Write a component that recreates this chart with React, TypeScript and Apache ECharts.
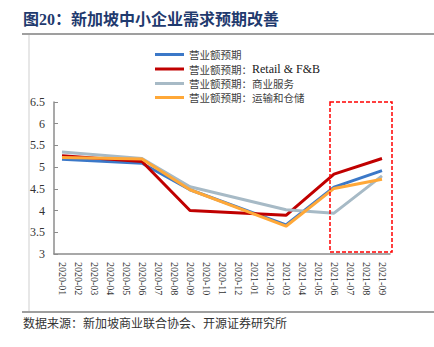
import React, { useEffect, useRef } from "react";
import * as echarts from "echarts";

const categories = [
  "2020-01", "2020-02", "2020-03", "2020-04", "2020-05", "2020-06", "2020-07",
  "2020-08", "2020-09", "2020-10", "2020-11", "2020-12", "2021-01", "2021-02",
  "2021-03", "2021-04", "2021-05", "2021-06", "2021-07", "2021-08", "2021-09",
];

const seriesNames = [
  "营业额预期",
  "营业额预期：Retail & F&B",
  "营业额预期：商业服务",
  "营业额预期：运输和仓储",
];

// values at 2020-01, 2020-06, 2020-09, 2021-03, 2021-06, 2021-09 (others null)
const totalValues = [5.18, null, null, null, null, 5.09, null, null, 4.48, null, null, null, null, null, 3.67, null, null, 4.54, null, null, 4.92];
const retailValues = [5.26, null, null, null, null, 5.13, null, null, 4.0, null, null, null, null, null, 3.89, null, null, 4.84, null, null, 5.2];
const businessValues = [5.35, null, null, null, null, 5.2, null, null, 4.55, null, null, null, null, null, 4.02, null, null, 3.94, null, null, 4.8];
const transportValues = [5.22, null, null, null, null, 5.19, null, null, 4.48, null, null, null, null, null, 3.64, null, null, 4.51, null, null, 4.72];

const seriesColors = ["#3B78C8", "#C00000", "#A7BAC6", "#FFA838"];

const FONT = "'Liberation Serif', 'Noto Sans CJK SC', serif";

export default function App() {
  const ref = useRef<HTMLDivElement>(null);
  useEffect(() => {
    if (!ref.current) return;
    const chart = echarts.init(ref.current, null, { renderer: "svg" });
    const values = [totalValues, retailValues, businessValues, transportValues];
    chart.setOption({
      animation: false,
      backgroundColor: "#ffffff",
      textStyle: { fontFamily: FONT },
      grid: { left: 54, right: 44, top: 102, bottom: 93, containLabel: false },
      legend: {
        orient: "vertical",
        left: 150,
        top: 44,
        itemWidth: 29,
        itemHeight: 3,
        itemGap: 3,
        icon: "rect",
        formatter: (name: string) => {
          const idx = name.indexOf("：");
          if (idx < 0) return "{c|" + name + "}";
          const head = name.slice(0, idx + 1);
          const tail = name.slice(idx + 1);
          if (/^[A-Za-z]/.test(tail)) return "{c|" + head + "}{l|" + tail + "}";
          return "{c|" + head + tail + "}";
        },
        textStyle: {
          fontSize: 10.5,
          color: "#404040",
          fontFamily: FONT,
          lineHeight: 11,
          rich: {
            c: { fontSize: 10.5, color: "#404040", fontFamily: "'Noto Sans CJK SC', sans-serif", lineHeight: 11 },
            l: { fontSize: 12, color: "#202020", fontFamily: "'Liberation Serif', serif", lineHeight: 11 },
          },
        },
        data: seriesNames,
      },
      xAxis: {
        type: "category",
        data: categories,
        boundaryGap: true,
        axisLine: { lineStyle: { color: "#8C8C8C", width: 1.5 } },
        axisTick: { inside: true, length: 4, lineStyle: { color: "#8C8C8C" } },
        axisLabel: {
          rotate: -90,
          interval: 0,
          fontSize: 10,
          color: "#333333",
          fontFamily: FONT,
          margin: 8,
        },
      },
      yAxis: {
        type: "value",
        min: 3,
        max: 6.5,
        interval: 0.5,
        splitLine: { show: false },
        axisLine: { show: true, lineStyle: { color: "#8C8C8C", width: 1.5 } },
        axisTick: { show: true, inside: true, length: 4, lineStyle: { color: "#8C8C8C" } },
        axisLabel: { fontSize: 12, color: "#333333", fontFamily: FONT, margin: 9 },
      },
      series: seriesNames.map((name, i) => ({
        name,
        type: "line",
        data: values[i],
        connectNulls: true,
        symbol: "none",
        lineStyle: { color: seriesColors[i], width: 3 },
        itemStyle: { color: seriesColors[i] },
        z: 2 + i,
      })),
      graphic: [
        {
          type: "text",
          left: 23,
          top: 11,
          style: {
            text: "图20：新加坡中小企业需求预期改善",
            fontSize: 16,
            fontWeight: "bold",
            fill: "#1F3A6E",
            fontFamily: FONT,
          },
        },
        {
          type: "line",
          shape: { x1: 22, y1: 34, x2: 434, y2: 34 },
          style: { stroke: "#7F7F7F", lineWidth: 1.5 },
        },
        {
          type: "line",
          shape: { x1: 29, y1: 35, x2: 29, y2: 311 },
          style: { stroke: "#CFCFCF", lineWidth: 1 },
        },
        {
          type: "line",
          shape: { x1: 22, y1: 312, x2: 434, y2: 312 },
          style: { stroke: "#7F7F7F", lineWidth: 1.5 },
        },
        {
          type: "text",
          left: 23,
          top: 318,
          style: {
            text: "数据来源：新加坡商业联合协会、开源证券研究所",
            fontSize: 12,
            fill: "#333333",
            fontFamily: FONT,
          },
        },
        {
          type: "rect",
          shape: { x: 330, y: 102, width: 62, height: 150 },
          style: { fill: "none", stroke: "#FF0000", lineWidth: 1.5, lineDash: [4, 2] },
          z: 10,
        },
      ],
    });
    return () => chart.dispose();
  }, []);
  return (
    <div
      ref={ref}
      style={{ position: "fixed", left: 0, top: 0, width: 434, height: 347 }}
    />
  );
}
